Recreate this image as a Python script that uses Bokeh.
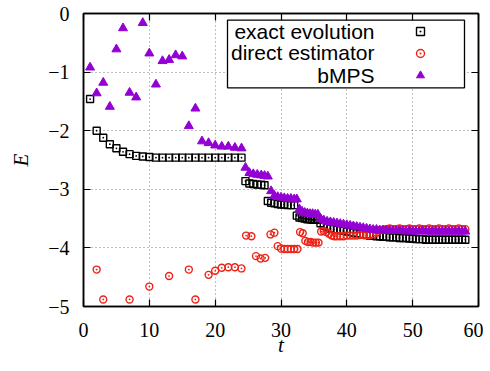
from bokeh.plotting import figure
from bokeh.models import Range1d, LinearAxis, Legend, LegendItem, Label, BoxAnnotation, CustomJSTickFormatter
from bokeh.embed import file_html
from bokeh.resources import INLINE

# ---------------- data ----------------
t_grid = [1, 2, 3, 4, 5, 6, 7, 8, 9, 10, 11, 12, 13, 14, 15, 16, 17, 18, 19, 20, 21, 22, 23, 24,
          24.6, 25.2, 25.8, 26.4, 27.0, 27.5,
          28.0, 28.5, 29.0, 29.5, 30.0, 30.5, 31.0, 31.5, 32.0,
          32.4, 32.8, 33.2, 33.6, 34.0, 34.4, 34.8, 35.2, 35.6,
          36.0, 36.5, 37.0, 37.5, 38.0, 38.5, 39.0, 39.5, 40.0, 40.5,
          41.0, 41.5, 42.0, 42.5, 43.0, 43.5, 44.0, 44.5, 45.0, 45.5,
          46.0, 46.5, 47.0, 47.5, 48.0, 48.5, 49.0, 49.5, 50.0, 50.5,
          51.0, 51.5, 52.0, 52.5, 53.0, 53.5, 54.0, 54.5, 55.0, 55.5,
          56.0, 56.5, 57.0, 57.5, 58.0]

E_exact = [-1.46, -2.00, -2.12, -2.23, -2.30, -2.36, -2.40, -2.43, -2.44, -2.45, -2.46, -2.46,
           -2.46, -2.46, -2.46, -2.46, -2.46, -2.46, -2.46, -2.46, -2.46, -2.46, -2.46, -2.46,
           -2.86, -2.90, -2.91, -2.92, -2.92, -2.93,
           -3.20, -3.23, -3.24, -3.25, -3.26, -3.26, -3.27, -3.27, -3.27,
           -3.45, -3.48, -3.49, -3.50, -3.51, -3.51, -3.52, -3.52, -3.52,
           -3.58, -3.62, -3.65, -3.67, -3.68, -3.69, -3.70, -3.71, -3.72, -3.73,
           -3.74, -3.75, -3.76, -3.77, -3.78, -3.79, -3.79, -3.80, -3.80, -3.81,
           -3.81, -3.82, -3.82, -3.82, -3.83, -3.83, -3.83, -3.84, -3.84, -3.85,
           -3.85, -3.85, -3.86, -3.86, -3.86, -3.86, -3.86, -3.86, -3.86, -3.86,
           -3.86, -3.86, -3.86, -3.86, -3.86]

E_bmps = [-0.92, -1.36, -1.18, -1.59, -0.61, -0.25, -1.35, -1.43, -0.16, -0.68, -1.21, -0.81,
          -0.79, -0.71, -0.73, -1.92, -1.62, -2.18, -2.21, -2.25, -2.27, -2.27, -2.29, -2.30,
          -2.63, -2.72, -2.74, -2.75, -2.76, -2.77,
          -2.78, -3.03, -3.11, -3.13, -3.14, -3.15, -3.16, -3.16, -3.17,
          -3.17, -3.34, -3.38, -3.40, -3.41, -3.42, -3.42, -3.43, -3.43,
          -3.50, -3.53, -3.55, -3.56, -3.57, -3.58, -3.59, -3.60, -3.61, -3.62,
          -3.63, -3.64, -3.65, -3.66, -3.67, -3.68, -3.69, -3.69, -3.70, -3.70,
          -3.70, -3.71, -3.71, -3.71, -3.71, -3.71, -3.72, -3.71, -3.72, -3.72,
          -3.72, -3.71, -3.72, -3.72, -3.72, -3.72, -3.72, -3.72, -3.72, -3.72,
          -3.72, -3.72, -3.72, -3.72, -3.72]

t_direct = [2, 3, 7, 10, 13, 16, 17, 19, 20, 21, 22, 23, 24,
            24.7, 25.5, 26.2, 26.9, 27.6, 28.4, 29.0, 29.5, 30.0, 30.5, 31.0, 31.5, 32.0, 32.5,
            32.9, 33.3, 33.7, 34.1, 34.5, 34.9, 35.3, 35.7, 36.1, 36.5, 36.9, 37.3, 37.7,
            38.1, 38.5, 39.0, 39.5, 40.0, 40.5, 41.0, 41.5, 42.0, 42.5, 43.0, 43.5, 44.0,
            44.5, 45.0, 45.5, 46.0, 46.5, 47.0, 47.5, 48.0, 48.5, 49.0, 49.5, 50.0, 50.5,
            51.0, 51.5, 52.0, 52.5, 53.0, 53.5, 54.0, 54.5, 55.0, 55.5, 56.0, 56.5, 57.0,
            57.5, 58.0]

E_direct = [-4.37, -4.88, -4.88, -4.66, -4.48, -4.37, -4.88, -4.46, -4.39, -4.34, -4.33, -4.33, -4.35,
            -3.79, -3.80, -4.14, -4.18, -4.17, -3.77, -3.74, -3.97, -4.01, -4.02, -4.02, -4.02, -4.02, -4.02,
            -3.73, -3.75, -3.88, -3.90, -3.90, -3.91, -3.91, -3.91, -3.72, -3.71, -3.73, -3.76, -3.79,
            -3.80, -3.80, -3.80, -3.80, -3.79, -3.79, -3.79, -3.79, -3.78, -3.78, -3.78, -3.78, -3.77,
            -3.74, -3.70, -3.69, -3.68, -3.67, -3.68, -3.68, -3.67, -3.68, -3.68, -3.67, -3.68, -3.68,
            -3.67, -3.68, -3.68, -3.67, -3.68, -3.68, -3.67, -3.68, -3.68, -3.67, -3.68, -3.68, -3.67,
            -3.68, -3.68]

x_ticks = [0, 10, 20, 30, 40, 50, 60]
y_ticks = [-5, -4, -3, -2, -1, 0]
y_tick_labels = ["\u22125", "\u22124", "\u22123", "\u22122", "\u22121", "0"]
series_names = ["exact evolution", "direct estimator", "bMPS"]

# ---------------- figure ----------------
p = figure(frame_width=395, frame_height=293, x_range=Range1d(0, 60), y_range=Range1d(-5, 0),
           output_backend="svg", toolbar_location=None,
           x_axis_label="t", y_axis_label="E")
p.margin = (0, 0, 0, 6)
p.min_border_top = 7
p.background_fill_color = "white"
p.border_fill_color = "white"
p.outline_line_color = "black"
p.outline_line_width = 1.5

SERIF = "Liberation Serif"
xa = p.xaxis[0]
ya = p.yaxis[0]
for ax in (xa, ya):
    ax.major_tick_in = 7
    ax.major_tick_out = 0
    ax.minor_tick_line_color = None
    ax.axis_line_color = "black"
    ax.axis_line_width = 1.5
    ax.major_tick_line_width = 1.2
    ax.major_label_text_font = SERIF
    ax.major_label_text_font_size = "20px"
    ax.major_label_text_color = "black"
    ax.axis_label_text_font = SERIF
    ax.axis_label_text_font_style = "italic"
    ax.axis_label_text_font_size = "21px"
    ax.axis_label_text_color = "black"
xa.ticker = x_ticks
ya.ticker = y_ticks
ya.major_label_overrides = {v: s for v, s in zip(y_ticks, y_tick_labels)}
xa.major_label_standoff = 16
xa.axis_label_standoff = -7
ya.major_label_standoff = 14
ya.axis_label_standoff = 12

# mirrored inward ticks on top and right (no labels)
for place, ticks in (("right", y_ticks), ("above", x_ticks)):
    ax = LinearAxis(ticker=ticks, major_tick_in=7, major_tick_out=0,
                    minor_tick_line_color=None,
                    formatter=CustomJSTickFormatter(code="return ''"),
                    major_label_standoff=0, axis_line_color="black", axis_line_width=1.5,
                    major_tick_line_width=1.2)
    p.add_layout(ax, place)

# blank title strip: room above the frame so the top tick label "0" is not clipped
p.title.text = " "
p.title.text_font_size = "6px"
p.title.standoff = 5
p.title.offset = 0

p.xgrid.ticker = x_ticks
p.ygrid.ticker = y_ticks
for g in (p.xgrid[0], p.ygrid[0]):
    g.grid_line_color = "#808080"
    g.grid_line_dash = "1 3"
    g.grid_line_width = 1

r_exact = p.scatter(t_grid, E_exact, marker="square_dot", size=7, line_color="black",
                    fill_color=None, line_width=1.4)
r_direct = p.scatter(t_direct, E_direct, marker="circle_dot", size=7, line_color="#ee2216",
                     fill_color=None, line_width=1.4)
r_bmps = p.scatter(t_grid, E_bmps, marker="triangle", size=9, line_color="#9400d3",
                   fill_color="#9400d3", line_width=1)

# ---------------- key (text left, symbol right, boxed) ----------------
box = BoxAnnotation(left=144, right=381, bottom=218.7, top=286.3,
                    left_units="screen", right_units="screen",
                    top_units="screen", bottom_units="screen",
                    fill_color="white", fill_alpha=1, line_color="black", line_width=1.3,
                    line_alpha=1)
p.add_layout(box)

for name, yy in zip(series_names, [275.3, 253.7, 231.0]):
    p.add_layout(Label(x=291, y=yy, x_units="screen", y_units="screen", text=name,
                       text_align="right", text_baseline="middle",
                       text_font="Liberation Sans", text_font_size="21px", text_color="black"))

legend = Legend(items=[LegendItem(label="", renderers=[r]) for r in (r_exact, r_direct, r_bmps)],
                location=(327, 221), glyph_width=20, glyph_height=20, label_height=20,
                label_width=0, label_standoff=0, spacing=2, padding=0, margin=0,
                border_line_color=None, background_fill_alpha=0)
p.add_layout(legend, "center")

open("out.html", "w").write(file_html(p, INLINE))
